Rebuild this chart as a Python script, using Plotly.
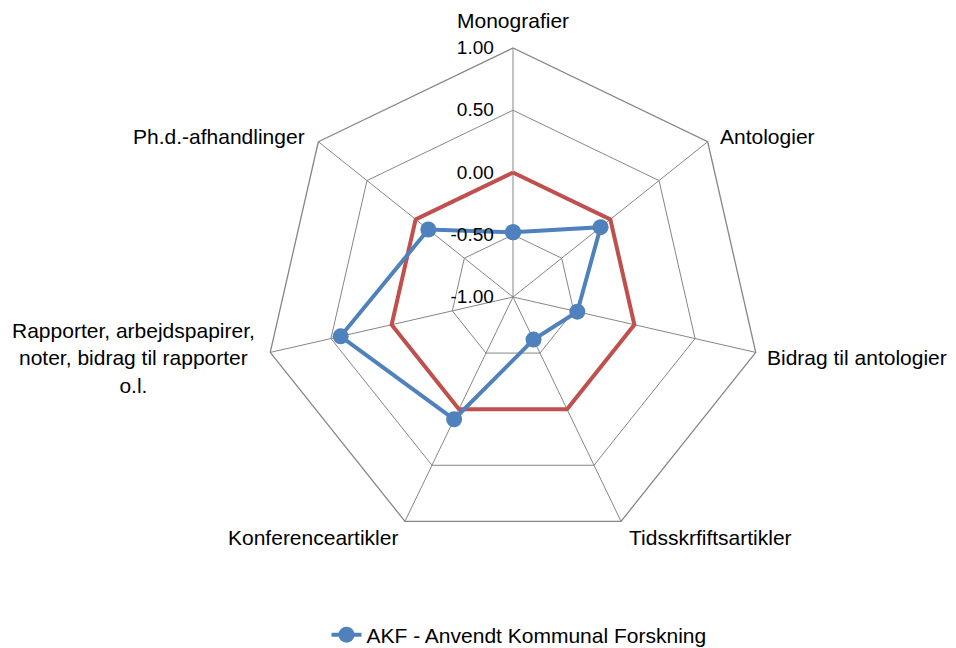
import math
import plotly.graph_objects as go

categories = [
    "Monografier",
    "Antologier",
    "Bidrag til antologier",
    "Tidsskrfiftsartikler",
    "Konferenceartikler",
    "Rapporter, arbejdspapirer,<br>noter, bidrag til rapporter<br>o.l.",
    "Ph.d.-afhandlinger",
]
series_name = "AKF - Anvendt Kommunal Forskning"
akf_values = [-0.48, -0.10, -0.47, -0.62, 0.09, 0.42, -0.13]
reference_values = [0, 0, 0, 0, 0, 0, 0]
radial_min, radial_max = -1.0, 1.0
radial_tickvals = [-1.0, -0.5, 0.0, 0.5, 1.0]
radial_ticktext = ["-1.00", "-0.50", "0.00", "0.50", "1.00"]

BLUE = "#4F81BD"
RED = "#C0504D"
GRID = "#868686"
FONT = "Liberation Sans, Arial, sans-serif"

# plotly's linear (polygon) grid hides markers when the radial range is negative,
# so the radial scale is offset to start at zero and relabelled with the true values
def shift(vals):
    return [v - radial_min for v in vals]

theta_closed = categories + categories[:1]

fig = go.Figure()
fig.add_trace(go.Scatterpolar(
    r=shift(reference_values + reference_values[:1]),
    theta=theta_closed,
    mode="lines",
    line=dict(color=RED, width=4),
    showlegend=False,
    hoverinfo="skip",
    cliponaxis=False,
))
fig.add_trace(go.Scatterpolar(
    r=shift(akf_values + akf_values[:1]),
    theta=theta_closed,
    mode="lines+markers",
    line=dict(color=BLUE, width=4),
    marker=dict(color=BLUE, size=16, symbol="circle"),
    name=series_name,
    cliponaxis=False,
))

W, H = 956, 648
OFF = 8  # page offset of the plot div
cx, cy, R = 513, 297, 249


def to_paper(px, py):
    return (px - OFF) / W, 1 - (py - OFF) / H


# category label placement: (xanchor, dx, dy) relative to each outer vertex
label_place = [
    ("center", 0, -27),
    ("left", 10, -5),
    ("left", 9, 5),
    ("left", 6, 16),
    ("right", -5, 16),
    ("right", -13, 6),
    ("right", -11, -5),
]
annotations = []
n = len(categories)
for i, (cat, (xa, dx, dy)) in enumerate(zip(categories, label_place)):
    ang = math.radians(360.0 * i / n)
    vx = cx + R * math.sin(ang)
    vy = cy - R * math.cos(ang)
    x, y = to_paper(vx + dx, vy + dy)
    annotations.append(dict(
        text=cat, x=x, y=y, xref="paper", yref="paper",
        xanchor=xa, yanchor="middle", align="center", showarrow=False,
        font=dict(family=FONT, size=21, color="black"),
    ))

x0, y0 = to_paper(cx - R, cy + R)
x1, y1 = to_paper(cx + R, cy - R)
fig.update_layout(
    width=W, height=H,
    margin=dict(l=0, r=0, t=0, b=0),
    paper_bgcolor="white",
    plot_bgcolor="white",
    font=dict(family=FONT, size=21, color="black"),
    annotations=annotations,
    polar=dict(
        domain=dict(x=[x0, x1], y=[y0, y1]),
        bgcolor="white",
        gridshape="linear",
        angularaxis=dict(
            direction="clockwise",
            rotation=90,
            showline=True,
            linecolor=GRID,
            linewidth=1.3,
            gridcolor=GRID,
            gridwidth=1.3,
            ticks="",
            showticklabels=False,
        ),
        radialaxis=dict(
            range=shift([radial_min, radial_max]),
            tickvals=shift(radial_tickvals),
            ticktext=radial_ticktext,
            angle=90,
            side="counterclockwise",
            tickangle=90,
            showline=False,
            gridcolor=GRID,
            gridwidth=1.3,
            ticks="outside",
            ticklen=12,
            tickcolor="rgba(0,0,0,0)",
            tickfont=dict(size=19, color="black"),
        ),
    ),
    legend=dict(
        orientation="h",
        x=0.5 + 33 / W, xanchor="center",
        y=to_paper(0, 635)[1], yanchor="middle",
        font=dict(size=21),
    ),
)
fig.write_html("out.html")
